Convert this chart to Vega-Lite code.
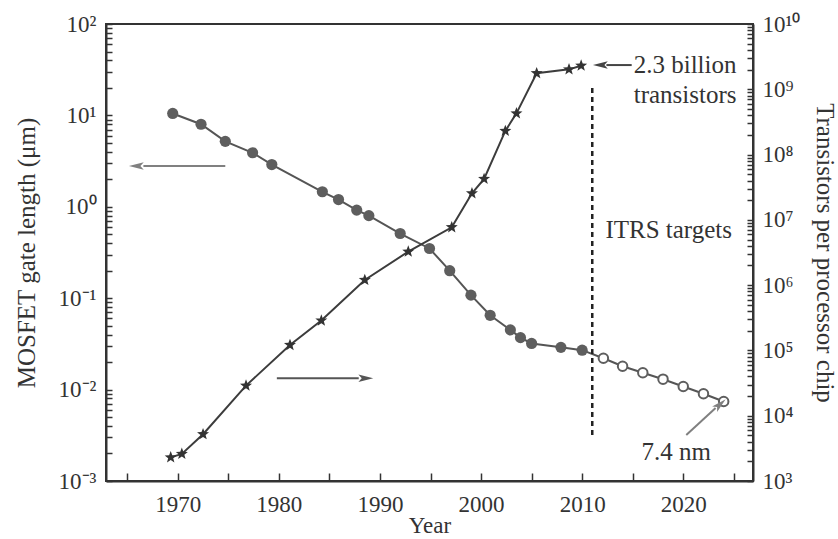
{
  "$schema": "https://vega.github.io/schema/vega-lite/v6.json",
  "width": 647,
  "height": 457,
  "autosize": {"type": "none"},
  "padding": {"left": 106, "top": 24, "right": 85, "bottom": 58},
  "background": "white",
  "config": {
    "font": "Liberation Serif",
    "view": {"stroke": "#333", "strokeWidth": 2},
    "axis": {
      "labelFont": "Liberation Serif",
      "labelFontSize": 23,
      "labelColor": "#333",
      "titleFont": "Liberation Serif",
      "titleFontSize": 25,
      "titleFontWeight": "normal",
      "titleColor": "#333",
      "domainColor": "#333",
      "domainWidth": 2,
      "tickColor": "#333",
      "tickWidth": 1.5,
      "grid": false
    }
  },
  "datasets": {
    "gate": [
      {"year": 1969.5, "v": 10.5, "f": "filled"},
      {"year": 1972.3, "v": 8.0, "f": "filled"},
      {"year": 1974.7, "v": 5.2, "f": "filled"},
      {"year": 1977.4, "v": 3.9, "f": "filled"},
      {"year": 1979.3, "v": 2.9, "f": "filled"},
      {"year": 1984.3, "v": 1.46, "f": "filled"},
      {"year": 1985.9, "v": 1.2, "f": "filled"},
      {"year": 1987.7, "v": 0.92, "f": "filled"},
      {"year": 1988.9, "v": 0.8, "f": "filled"},
      {"year": 1992.0, "v": 0.51, "f": "filled"},
      {"year": 1994.9, "v": 0.35, "f": "filled"},
      {"year": 1996.9, "v": 0.2, "f": "filled"},
      {"year": 1999.0, "v": 0.108, "f": "filled"},
      {"year": 2000.9, "v": 0.065, "f": "filled"},
      {"year": 2002.9, "v": 0.045, "f": "filled"},
      {"year": 2003.9, "v": 0.037, "f": "filled"},
      {"year": 2005.0, "v": 0.032, "f": "filled"},
      {"year": 2007.9, "v": 0.029, "f": "filled"},
      {"year": 2010.0, "v": 0.027, "f": "filled"},
      {"year": 2012.1, "v": 0.022, "f": "open"},
      {"year": 2014.0, "v": 0.018, "f": "open"},
      {"year": 2016.0, "v": 0.0153, "f": "open"},
      {"year": 2018.0, "v": 0.013, "f": "open"},
      {"year": 2020.0, "v": 0.0108, "f": "open"},
      {"year": 2022.0, "v": 0.009, "f": "open"},
      {"year": 2024.0, "v": 0.0074, "f": "open"}
    ],
    "trans": [
      {"year": 1969.3, "v": 2300},
      {"year": 1970.4, "v": 2600},
      {"year": 1972.5, "v": 5200},
      {"year": 1976.75, "v": 28900},
      {"year": 1981.1, "v": 121000},
      {"year": 1984.2, "v": 287000},
      {"year": 1988.5, "v": 1200000},
      {"year": 1992.8, "v": 3260000},
      {"year": 1997.1, "v": 7700000},
      {"year": 1999.1, "v": 25500000},
      {"year": 2000.3, "v": 42300000},
      {"year": 2002.4, "v": 230000000},
      {"year": 2003.5, "v": 428000000},
      {"year": 2005.5, "v": 1760000000},
      {"year": 2008.7, "v": 2020000000},
      {"year": 2009.9, "v": 2300000000}
    ],
    "leftArrows": [
      {"name": "toLeft", "year": 1974.7, "v": 2.8, "year2": 1966.6, "v2": 2.8},
      {"name": "toRight", "year": 1979.8, "v": 0.0133, "year2": 1987.9, "v2": 0.0133},
      {"name": "nm", "year": 2020.3, "v": 0.00318, "year2": 2023.2, "v2": 0.0063}
    ],
    "leftHeads": [
      {"name": "toLeft", "year": 1965.9, "v": 2.8},
      {"name": "toRight", "year": 1988.6, "v": 0.0133},
      {"name": "nm", "year": 2023.65, "v": 0.0069}
    ],
    "leftText": [
      {"t": "ITRS targets", "year": 2012.3, "v": 0.557},
      {"t": "7.4 nm", "year": 2019.3, "v": 0.00209}
    ],
    "itrs": [{"year": 2011.0, "v": 20, "v2": 0.00303}],
    "rightArrows": [
      {"year": 2014.9, "v": 2350000000, "year2": 2012.4, "v2": 2350000000}
    ],
    "rightHeads": [
      {"year": 2011.8, "v": 2350000000}
    ],
    "rightText": [
      {"t": "2.3 billion", "year": 2015.1, "v": 2350000000},
      {"t": "transistors", "year": 2015.1, "v": 818000000}
    ]
  },
  "encoding": {
    "x": {
      "field": "year",
      "type": "quantitative",
      "scale": {"domain": [1962.9, 2026.9], "nice": false, "zero": false},
      "axis": {
        "title": "Year",
        "titleFontSize": 23,
        "values": [1965, 1970, 1975, 1980, 1985, 1990, 1995, 2000, 2005, 2010, 2015, 2020, 2025],
        "format": "d",
        "labelExpr": "datum.value % 10 === 0 ? datum.label : ''",
        "tickSize": -8,
        "labelPadding": 20,
        "titlePadding": -2
      }
    }
  },
  "layer": [
    {
      "encoding": {
        "y": {
          "field": "v",
          "type": "quantitative",
          "scale": {"type": "log", "domain": [0.001, 100], "nice": false},
          "axis": {
            "orient": "left",
            "title": "MOSFET gate length (μm)",
            "values": [0.001, 0.002, 0.003, 0.004, 0.005, 0.006, 0.007, 0.008, 0.009, 0.01, 0.02, 0.03, 0.04, 0.05, 0.06, 0.07, 0.08, 0.09, 0.1, 0.2, 0.3, 0.4, 0.5, 0.6, 0.7, 0.8, 0.9, 1, 2, 3, 4, 5, 6, 7, 8, 9, 10, 20, 30, 40, 50, 60, 70, 80, 90, 100],
            "labelExpr": "datum.value == 0.001 ? '10⁻³' : datum.value == 0.01 ? '10⁻²' : datum.value == 0.1 ? '10⁻¹' : datum.value == 1 ? '10⁰' : datum.value == 10 ? '10¹' : datum.value == 100 ? '10²' : ''",
            "tickSize": -6,
            "labelPadding": 16,
            "titlePadding": 19
          }
        }
      },
      "layer": [
        {
          "data": {"name": "gate"},
          "mark": {"type": "line", "color": "#555", "strokeWidth": 2}
        },
        {
          "data": {"name": "gate"},
          "transform": [{"filter": "datum.f === 'filled'"}],
          "mark": {"type": "point", "shape": "circle", "filled": true, "color": "#5e5e5e", "size": 125, "opacity": 1}
        },
        {
          "data": {"name": "gate"},
          "transform": [{"filter": "datum.f === 'open'"}],
          "mark": {"type": "point", "shape": "circle", "filled": true, "fill": "white", "stroke": "#5e5e5e", "strokeWidth": 2, "size": 90, "opacity": 1}
        },
        {
          "data": {"name": "itrs"},
          "mark": {"type": "rule", "color": "#222", "strokeWidth": 2.5, "strokeDash": [5, 4]},
          "encoding": {"y2": {"field": "v2"}}
        },
        {
          "data": {"name": "leftArrows"},
          "transform": [{"filter": "datum.name !== 'toRight'"}],
          "mark": {"type": "rule", "strokeWidth": 2, "color": "#808080"},
          "encoding": {"x2": {"field": "year2"}, "y2": {"field": "v2"}}
        },
        {
          "data": {"name": "leftArrows"},
          "transform": [{"filter": "datum.name === 'toRight'"}],
          "mark": {"type": "rule", "strokeWidth": 2, "color": "#555"},
          "encoding": {"x2": {"field": "year2"}, "y2": {"field": "v2"}}
        },
        {
          "data": {"name": "leftHeads"},
          "transform": [{"filter": "datum.name === 'toLeft'"}],
          "mark": {"type": "point", "shape": "M-1,0L1,-0.5L0.55,0L1,0.5Z", "filled": true, "size": 220, "opacity": 1, "color": "#808080", "angle": 0}
        },
        {
          "data": {"name": "leftHeads"},
          "transform": [{"filter": "datum.name === 'toRight'"}],
          "mark": {"type": "point", "shape": "M-1,0L1,-0.5L0.55,0L1,0.5Z", "filled": true, "size": 220, "opacity": 1, "color": "#555", "angle": 180}
        },
        {
          "data": {"name": "leftHeads"},
          "transform": [{"filter": "datum.name === 'nm'"}],
          "mark": {"type": "point", "shape": "M-1,0L1,-0.5L0.55,0L1,0.5Z", "filled": true, "size": 220, "opacity": 1, "color": "#808080", "angle": 138}
        },
        {
          "data": {"name": "leftText"},
          "transform": [{"filter": "datum.t === 'ITRS targets'"}],
          "mark": {"type": "text", "font": "Liberation Serif", "fontSize": 25, "color": "#333", "baseline": "middle", "align": "left"},
          "encoding": {"text": {"field": "t"}}
        },
        {
          "data": {"name": "leftText"},
          "transform": [{"filter": "datum.t === '7.4 nm'"}],
          "mark": {"type": "text", "font": "Liberation Serif", "fontSize": 25, "color": "#333", "baseline": "middle", "align": "center"},
          "encoding": {"text": {"field": "t"}}
        }
      ]
    },
    {
      "encoding": {
        "y": {
          "field": "v",
          "type": "quantitative",
          "scale": {"type": "log", "domain": [1000, 10000000000], "nice": false},
          "axis": {
            "orient": "right",
            "title": "Transistors per processor chip",
            "values": [1000, 2000, 3000, 4000, 5000, 6000, 7000, 8000, 9000, 10000, 20000, 30000, 40000, 50000, 60000, 70000, 80000, 90000, 100000, 200000, 300000, 400000, 500000, 600000, 700000, 800000, 900000, 1000000, 2000000, 3000000, 4000000, 5000000, 6000000, 7000000, 8000000, 9000000, 10000000, 20000000, 30000000, 40000000, 50000000, 60000000, 70000000, 80000000, 90000000, 100000000, 200000000, 300000000, 400000000, 500000000, 600000000, 700000000, 800000000, 900000000, 1000000000, 2000000000, 3000000000, 4000000000, 5000000000, 6000000000, 7000000000, 8000000000, 9000000000, 10000000000],
            "labelExpr": "datum.value == 1000 ? '10³' : datum.value == 10000 ? '10⁴' : datum.value == 100000 ? '10⁵' : datum.value == 1000000 ? '10⁶' : datum.value == 10000000 ? '10⁷' : datum.value == 100000000 ? '10⁸' : datum.value == 1000000000 ? '10⁹' : datum.value == 10000000000 ? '10¹⁰' : ''",
            "tickSize": -6,
            "labelPadding": 15,
            "titlePadding": 12
          }
        }
      },
      "layer": [
        {
          "data": {"name": "trans"},
          "mark": {"type": "line", "color": "#3c3c3c", "strokeWidth": 2}
        },
        {
          "data": {"name": "trans"},
          "mark": {"type": "point", "shape": "M0,-1L0.247,-0.34L0.951,-0.309L0.4,0.13L0.588,0.809L0,0.42L-0.588,0.809L-0.4,0.13L-0.951,-0.309L-0.247,-0.34Z", "filled": true, "color": "#333", "size": 160, "opacity": 1}
        },
        {
          "data": {"name": "rightArrows"},
          "mark": {"type": "rule", "strokeWidth": 2, "color": "#444"},
          "encoding": {"x2": {"field": "year2"}, "y2": {"field": "v2"}}
        },
        {
          "data": {"name": "rightHeads"},
          "mark": {"type": "point", "shape": "M-1,0L1,-0.5L0.55,0L1,0.5Z", "filled": true, "size": 220, "opacity": 1, "color": "#444", "angle": 0}
        },
        {
          "data": {"name": "rightText"},
          "mark": {"type": "text", "font": "Liberation Serif", "fontSize": 25, "color": "#333", "align": "left", "baseline": "middle"},
          "encoding": {"text": {"field": "t"}}
        }
      ]
    }
  ],
  "resolve": {"scale": {"y": "independent"}}
}
